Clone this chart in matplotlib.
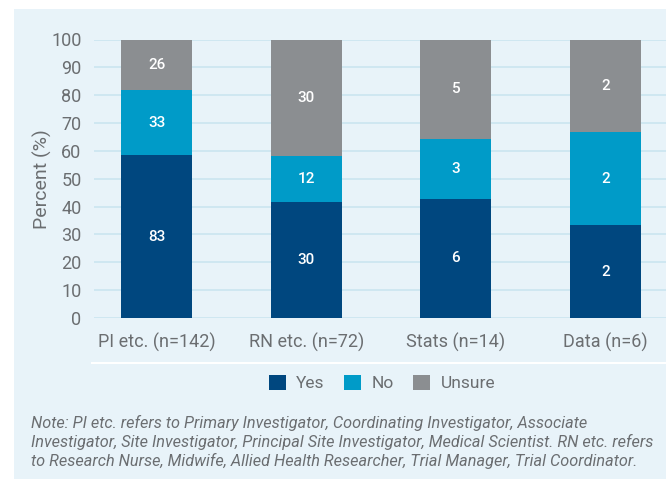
import numpy as np
import matplotlib.pyplot as plt
from matplotlib.patches import Rectangle, Patch
from matplotlib.lines import Line2D

plt.rcParams['font.family'] = ['Roboto', 'DejaVu Sans']

groups = ['PI etc. (n=142)', 'RN etc. (n=72)', 'Stats (n=14)', 'Data (n=6)']
yes = np.array([83, 30, 6, 2])
no = np.array([33, 12, 3, 2])
unsure = np.array([26, 30, 5, 2])

colors = {'Yes': '#00477f', 'No': '#009bc8', 'Unsure': '#8b8e91'}
bg = '#e8f3f9'
txt = '#6b6e71'

total = yes + no + unsure
p_yes = yes / total * 100
p_no = no / total * 100
p_uns = unsure / total * 100

W, H = 666, 479
fig = plt.figure(figsize=(W / 100, H / 100), dpi=100)
fig.patch.set_facecolor('white')
fig.patches.append(Rectangle((14 / W, 0), 1, (H - 9) / H, transform=fig.transFigure,
                             facecolor=bg, edgecolor='none', zorder=-10))

ax = fig.add_axes([94 / W, (H - 318) / H, (W - 94) / W, (318 - 39.5) / H])
ax.set_facecolor('none')
x = np.arange(len(groups))
bw = 0.474
ax.bar(x, p_yes, bw, color=colors['Yes'], zorder=3)
ax.bar(x, p_no, bw, bottom=p_yes, color=colors['No'], zorder=3)
ax.bar(x, p_uns, bw, bottom=p_yes + p_no, color=colors['Unsure'], zorder=3)

for i in range(len(groups)):
    ax.text(x[i], p_yes[i] / 2, str(yes[i]), ha='center', va='center', color='white',
            fontsize=11, fontweight='medium', zorder=4)
    ax.text(x[i], p_yes[i] + p_no[i] / 2, str(no[i]), ha='center', va='center', color='white',
            fontsize=11, fontweight='medium', zorder=4)
    ax.text(x[i], p_yes[i] + p_no[i] + p_uns[i] / 2, str(unsure[i]), ha='center', va='center',
            color='white', fontsize=11, fontweight='medium', zorder=4)

ax.set_xlim(-0.418, 3.404)
ax.set_ylim(0, 100)
ax.set_yticks(np.arange(0, 101, 10))
ax.set_xticks(x)
ax.set_xticklabels(groups)
ax.grid(axis='y', color='#cde6f1', linewidth=1.3, zorder=0)
for s in ax.spines.values():
    s.set_visible(False)
ax.tick_params(axis='both', length=0, labelsize=13, labelcolor=txt)
ax.tick_params(axis='x', pad=11)
ax.tick_params(axis='y', pad=9)
ax.set_ylabel('Percent (%)', fontsize=14, color=txt)
ax.yaxis.set_label_coords(-0.074, 0.5)

fig.add_artist(Line2D([92 / W, 1], [(H - 363) / H] * 2, transform=fig.transFigure,
                      color='white', linewidth=1.5))

handles = [Patch(facecolor=colors[k], edgecolor='none', label=k) for k in colors]
fig.legend(handles=handles, loc='center', bbox_to_anchor=(382 / W, (H - 383) / H), ncol=3,
           frameon=False, fontsize=12.5, labelcolor=txt, handlelength=1.0, handleheight=1.0,
           handletextpad=0.6, columnspacing=1.1)

note = ('Note: PI etc. refers to Primary Investigator, Coordinating Investigator, Associate\n'
        'Investigator, Site Investigator, Principal Site Investigator, Medical Scientist. RN etc. refers\n'
        'to Research Nurse, Midwife, Allied Health Researcher, Trial Manager, Trial Coordinator.')
fig.text(31 / W, (H - 442) / H, note, ha='left', va='center', fontsize=11.7, style='italic',
         color=txt, linespacing=1.25)

fig.savefig('out.png', dpi=100, facecolor=fig.get_facecolor())
